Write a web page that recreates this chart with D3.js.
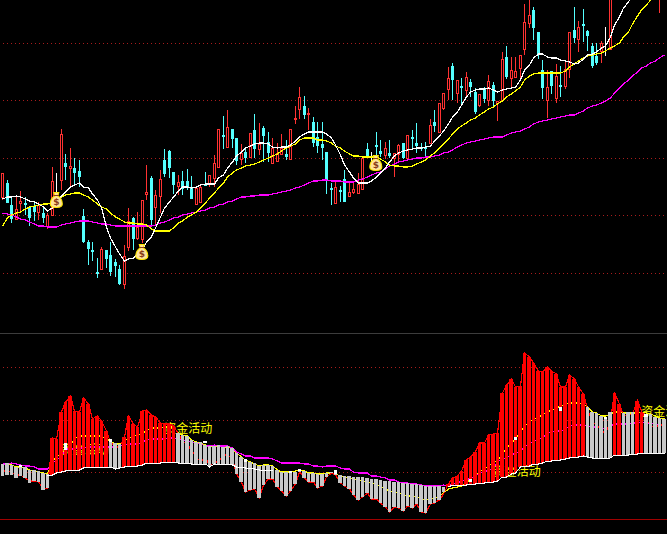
<!DOCTYPE html>
<html><head><meta charset="utf-8">
<script src="https://cdnjs.cloudflare.com/ajax/libs/d3/7.8.5/d3.min.js"></script>
<style>html,body{margin:0;padding:0;background:#000;overflow:hidden}svg{display:block}</style>
</head><body><svg id="c" width="667" height="534"></svg>
<script>
const _=null;
// ---- price panel (k-line) ----
const highs=[157,150,133,133,139,133,123,128,128,124,117,163,157,201,176,182,172,170,121,90,88,72,83,80,88,71,65,85,122,113,118,130,165,154,140,160,181,180,158,155,159,161,154,142,144,158,155,175,201,
214,220,201,192,186,182,197,216,207,204,198,192,187,196,190,201,224,243,234,222,213,208,208,178,147,149,144,160,149,147,157,172,187,178,198,190,188,190,177,186,187,195,200,207,187,188,211,220,227,237,
263,267,250,252,258,251,242,236,243,255,248,229,278,284,273,273,275,326,330,323,298,270,260,259,266,264,270,298,323,309,321,300,287,287,289,303,355,_,_,_,_,_,_,_,_,_,_,350,_];
const lows=[130,127,107,110,119,115,104,109,110,107,101,115,123,140,150,142,145,143,87,65,69,52,60,62,54,53,45,41,79,80,90,87,130,105,105,117,153,152,136,135,135,140,131,126,128,144,143,143,163,
181,183,182,165,165,167,172,172,175,168,168,166,169,175,170,170,206,211,211,200,183,177,170,136,125,127,128,128,134,136,137,141,173,165,167,173,171,172,153,168,171,172,182,177,179,172,187,198,198,220,
230,230,227,226,232,233,216,223,227,224,224,209,229,251,242,252,250,275,302,290,271,231,212,236,227,233,241,252,287,278,288,279,262,265,267,274,280,_,_,_,_,_,_,_,_,_,_,317,_];
const opens=[133,147,125,111,127,127,123,124,118,117,104,115,140,150,167,162,162,159,114,88,80,58,61,80,75,68,61,46,83,112,92,91,136,152,123,134,170,179,158,144,149,149,142,126,128,146,146,152,163,
195,183,201,192,171,178,173,200,181,202,188,167,169,176,176,171,211,221,224,216,208,193,186,178,142,127,140,151,134,138,137,141,181,174,185,179,175,177,172,176,187,172,193,187,183,183,187,208,198,222,
241,264,237,244,240,248,238,225,241,230,245,227,230,273,252,253,262,281,307,320,298,260,230,259,232,245,244,261,300,291,306,299,284,274,279,284,281,_,_,_,_,_,_,_,_,_,_,338,_];
const closes=[157,127,111,121,129,125,112,118,125,112,115,149,140,196,163,164,157,153,88,81,79,56,81,71,58,64,46,74,109,91,103,130,138,110,135,151,156,162,145,148,141,143,131,142,143,145,155,167,201,
193,203,191,169,177,172,197,181,186,194,177,182,177,182,173,201,212,233,215,217,187,184,182,150,141,143,138,128,138,141,146,172,173,174,183,176,182,174,177,185,172,195,192,184,182,182,205,204,227,237,
252,250,250,242,253,243,218,236,231,249,229,229,271,253,260,259,275,308,315,302,276,242,243,244,254,244,261,298,292,303,304,294,264,267,287,284,350,_,_,_,_,_,_,_,_,_,_,345,_];
const maWhite=[131,133,133,134,133,131,129,128,126,123,119,122,128,134,138,143,145,147,143,142,136,130,122,103,92,83,76,69,71,72,76,80,88,93,102,113,122,128,133,139,143,143,142,143,145,146,146,146,152,155,
162,168,174,178,182,184,186,187,187,186,183,182,183,183,185,189,193,196,198,198,198,198,196,192,185,175,165,158,152,147,147,147,149,153,157,162,168,174,177,179,180,181,182,182,183,184,189,194,199,
206,213,218,225,233,238,240,241,241,242,240,238,240,241,242,243,250,260,265,272,276,276,273,272,272,270,269,268,266,267,271,275,276,278,282,284,293,305,313,322,328,336,_,_,_,_,_,_];
const maYellow=[104,112,115,117,118,121,123,124,125,126,126,127,130,133,135,136,137,137,135,133,130,126,123,121,117,113,111,108,107,107,106,106,105,101,99,99,99,99,102,107,109,113,115,118,122,127,132,137,142,147,
153,157,160,162,164,165,166,168,170,172,174,176,179,182,184,186,190,192,192,192,190,190,189,187,184,182,179,176,174,174,173,173,173,173,171,168,165,164,164,163,163,164,166,168,170,174,177,182,186,
191,196,201,204,207,210,212,215,218,221,223,226,229,233,236,239,243,250,254,256,257,257,257,257,257,257,259,263,266,269,272,274,275,276,277,279,282,284,287,293,298,306,314,320,325,330,334,_,_];
const maMagenta=[117,116,115,113,111,110,108,106,104,104,103,103,103,105,106,107,108,109,109,109,108,107,106,106,105,104,104,104,104,104,104,104,104,104,105,107,108,110,112,113,115,116,117,118,119,120,122,123,125,126,
128,129,131,133,133,134,134,135,135,135,136,137,138,139,140,142,143,145,147,149,149,150,150,149,149,149,148,148,148,150,151,153,155,157,158,161,164,166,168,169,170,171,172,172,173,173,174,175,177,
178,180,183,185,187,188,189,190,191,192,193,193,193,195,197,198,199,201,203,206,208,209,210,211,212,213,214,215,215,217,219,222,224,225,227,229,232,237,242,246,250,254,258,262,264,267,269,272,275];
const priceGrid=[287,230,172,115,57];
const bagIndex=[12,31,83];
const bagPrice=[130,78,167];

// ---- money-flow panel ----
const barTop=[70,71,69,67,68,67,64,64,63,61,60,96,95,122,132,138,123,122,136,130,115,118,113,103,95,91,90,97,118,110,107,123,124,119,117,111,110,110,108,101,99,98,94,92,92,89,88,88,89,
87,88,86,81,77,74,72,71,68,69,69,68,64,62,62,62,62,65,63,61,61,60,60,61,62,63,59,58,58,57,57,57,56,55,55,54,53,53,52,52,51,51,50,50,49,48,48,48,48,47,
50,56,58,63,74,77,82,91,91,99,100,101,141,149,155,147,148,181,177,171,163,162,167,163,160,147,147,159,155,147,140,127,122,121,118,117,122,141,130,121,122,122,133,122,120,120,117,116,115];
const barBottom=[58,59,59,56,58,56,51,53,52,44,46,59,61,62,63,64,64,64,66,67,67,67,67,67,67,65,66,67,68,68,68,69,71,71,71,71,72,72,72,71,71,71,70,70,70,70,67,70,69,
70,69,69,60,52,42,44,45,36,49,55,55,47,43,38,43,50,62,56,52,52,46,48,57,61,59,51,48,45,39,34,37,41,35,35,31,27,22,27,26,23,28,26,30,22,21,30,31,34,42,
47,49,49,49,49,50,50,51,51,52,52,53,57,57,60,61,67,68,68,70,70,71,73,73,74,74,75,76,77,77,78,77,76,76,76,75,76,79,79,78,79,80,80,81,81,81,81,81,81];
const flowRed=[63,63,62,59,59,56,53,53,52,45,46,96,95,122,132,138,123,122,136,130,115,118,113,103,92,87,87,97,118,110,107,123,124,119,117,111,110,110,108,100,93,90,83,77,72,77,68,72,72,
79,79,76,60,52,42,44,45,36,49,55,55,47,43,38,43,50,62,56,52,52,46,48,57,61,59,51,48,45,39,34,37,41,35,35,31,27,22,27,26,23,28,26,30,22,21,30,31,34,40,
50,56,58,63,74,77,82,91,91,99,100,101,141,149,155,147,148,181,177,171,163,162,167,163,160,147,147,159,155,147,140,125,112,109,104,100,114,141,130,118,119,120,133,123,114,109,106,110,107];
const flowYellow=[70,70,69,67,67,66,64,63,62,61,60,73,77,81,84,88,96,98,98,98,98,98,98,95,93,90,90,93,96,98,99,101,103,106,106,106,107,107,107,101,99,98,94,92,91,89,88,88,88,
87,87,85,81,77,74,72,70,68,69,69,68,64,62,62,62,63,64,63,61,61,60,60,61,61,60,58,57,56,55,54,53,52,51,50,47,45,43,42,41,39,38,38,37,35,34,35,36,38,41,
45,46,47,48,51,55,59,62,65,68,71,74,80,86,91,95,102,108,112,115,116,120,122,124,126,128,130,131,131,131,130,127,122,121,118,118,120,122,122,121,121,121,121,122,121,120,118,116,115];
const flowMagenta=[70,70,71,70,69,68,68,67,65,65,65,70,75,77,85,85,85,86,86,87,87,87,87,87,87,87,88,89,90,90,90,92,94,95,95,95,95,96,96,95,94,93,92,91,90,88,88,89,88,
88,88,86,82,80,78,78,76,76,76,76,75,73,71,71,71,71,71,70,70,68,68,67,68,68,68,66,65,65,62,61,61,61,58,58,57,56,54,54,52,51,51,50,50,49,48,48,48,48,49,
48,50,51,53,54,56,58,61,62,64,66,72,75,76,79,81,83,87,90,93,95,96,101,102,103,103,105,108,109,109,109,108,107,107,106,105,108,110,110,110,110,111,111,112,111,111,110,109,108];
const flowWhite=[_,_,_,_,_,_,_,_,_,_,58,59,61,62,63,64,64,64,66,67,67,67,67,67,67,65,66,67,68,68,68,69,71,71,71,71,72,72,72,71,71,71,70,70,70,70,67,70,69,
70,70,69,67,67,66,66,65,64,64,64,64,_,_,_,_,_,_,_,_,_,_,_,_,_,_,_,_,_,_,_,_,_,_,_,_,_,_,_,_,_,_,_,_,_,_,_,_,_,_,
47,49,49,49,49,50,50,51,51,52,52,53,57,57,60,61,67,68,68,70,70,71,73,73,74,74,75,76,77,77,78,77,76,76,76,75,76,79,79,78,79,80,80,81,81,81,81,81,81];
const tickIndex=[4,14,24,45,54,64,66,74,104,114,124,134,143];
const tickHigh=[69,91,95,93,75,63,65,64,55,97,127,117,120];
const tickLow=[67,84,92,91,72,61,63,60,52,94,123,115,117];
const flowGrid=[167,114,62];
const flowBase=[15];
const labelText=["资金活动","资金活动","资金活动","资金活动"];
const labelIndex=[13,36,109,142];
const labelValue=[84,105,62,122];

const svg=d3.select("#c");
svg.append("rect").attr("width",667).attr("height",534).attr("fill","#000");
const crisp=s=>s.attr("shape-rendering","crispEdges");
const x=d3.scaleLinear().domain([0,147]).range([2.3,663.8]);
const px=i=>Math.round(x(i));
const yP=d3.scaleLinear().domain([0,330]).range([330,0]);
const yF=d3.scaleLinear().domain([0,201]).range([534,333]);
const snap=v=>Math.round(v)+0.5;
const idx=d3.range(148);

// grid and frame
const gridCol="#a81c1c";
crisp(svg.append("g").selectAll("line").data(priceGrid).join("line")
 .attr("x1",3).attr("x2",667).attr("y1",d=>snap(yP(d))).attr("y2",d=>snap(yP(d)))
 .attr("stroke",gridCol).attr("stroke-dasharray","1 3"));
crisp(svg.append("g").selectAll("line").data(flowGrid).join("line")
 .attr("x1",3).attr("x2",667).attr("y1",d=>snap(yF(d))).attr("y2",d=>snap(yF(d)))
 .attr("stroke",gridCol).attr("stroke-dasharray","1 3"));
crisp(svg.append("line").attr("x1",0).attr("x2",667).attr("y1",333.5).attr("y2",333.5).attr("stroke","#3c3c3c"));
crisp(svg.append("g").selectAll("line").data(flowBase).join("line")
 .attr("x1",0).attr("x2",667).attr("y1",d=>snap(yF(d))).attr("y2",d=>snap(yF(d))).attr("stroke","#a00000"));

// candles
const RED="#ff3232",CYAN="#54ffff";
const live=idx.filter(i=>highs[i]!==null);
const col=i=>closes[i]===opens[i]?"#fff":closes[i]>opens[i]?RED:CYAN;
const cg=svg.append("g");
crisp(cg.selectAll("line").data(live).join("line")
 .attr("x1",i=>px(i)+.5).attr("x2",i=>px(i)+.5)
 .attr("y1",i=>yP(highs[i])).attr("y2",i=>yP(lows[i])).attr("stroke",col));
crisp(cg.selectAll("rect.up").data(live.filter(i=>closes[i]>opens[i])).join("rect").attr("class","up")
 .attr("x",i=>px(i)-.5).attr("width",2)
 .attr("y",i=>snap(yP(closes[i]))).attr("height",i=>Math.max(1,Math.round(yP(opens[i])-yP(closes[i]))))
 .attr("fill","#000").attr("stroke",RED));
crisp(cg.selectAll("rect.dn").data(live.filter(i=>closes[i]<opens[i])).join("rect").attr("class","dn")
 .attr("x",i=>px(i)-1).attr("width",3)
 .attr("y",i=>Math.round(yP(opens[i]))).attr("height",i=>Math.max(2,Math.round(yP(closes[i])-yP(opens[i]))))
 .attr("fill",CYAN));

// moving averages
function drawLine(vals,scale,color,w){
  const l=d3.line().defined(i=>vals[i]!==null&&vals[i]!==undefined).x(i=>px(i)+.5).y(i=>scale(vals[i]));
  return crisp(svg.append("path").attr("d",l(idx)).attr("fill","none").attr("stroke",color).attr("stroke-width",w||1));
}
drawLine(maMagenta,yP,"#ff00ff",1.2);
drawLine(maYellow,yP,"#ffff00",1.2);
drawLine(maWhite,yP,"#ffffff",1.2);

// money bags
const bags=svg.append("g").selectAll("g").data(bagIndex).join("g")
 .attr("transform",(d,k)=>`translate(${x(d)},${yP(bagPrice[k])})`);
bags.append("path").attr("d","M-2.5,-7.5 L2.5,-7.5 L1.5,-4 C5,-2 6,1.5 6,4 C6,6.8 3.5,7.5 0,7.5 C-3.5,7.5 -6,6.8 -6,4 C-6,1.5 -5,-2 -1.5,-4 Z")
 .attr("fill","#ffe29a").attr("stroke","#ffe800").attr("stroke-width",1.1);
bags.append("path").attr("d","M-2.5,-4.5 L2.5,-4.5").attr("stroke","#8a3b1a").attr("stroke-width",1);
bags.append("text").attr("text-anchor","middle").attr("y",5).attr("font-size",9).attr("font-weight","bold")
 .attr("font-family","DejaVu Sans").attr("fill","#8a3b1a").text("$");

// labels (behind bars)
svg.append("g").selectAll("text").data(labelIndex).join("text")
 .attr("x",i=>x(i)).attr("y",(d,k)=>yF(labelValue[k])).attr("dy","0.36em")
 .attr("font-family","'Noto Sans CJK SC'").attr("font-size",12).attr("fill","#ffff00")
 .text((d,k)=>labelText[k]);

// flow lines lie behind the bars and show through the gaps
drawLine(flowYellow,yF,"#ffff00",1.2);
drawLine(flowMagenta,yF,"#ff00ff",1.2);
drawLine(flowRed,yF,"#ff0000",1.2);

// flow bars: 3 or 4 px wide so that one pixel stays free between neighbours
const barX=i=>Math.round(x(i)-1.5);
const barW=i=>barX(i+1)-barX(i)-1;
crisp(svg.append("g").selectAll("rect").data(idx).join("rect")
 .attr("x",barX).attr("width",barW)
 .attr("y",i=>Math.round(yF(barTop[i]))).attr("height",i=>Math.max(1,Math.round(yF(barBottom[i])-yF(barTop[i]))))
 .attr("fill",i=>flowRed[i]>flowYellow[i]?"#ff0000":"#c8c8c8"));
drawLine(flowWhite,yF,"#ffffff",1);
crisp(svg.append("g").selectAll("rect").data(tickIndex).join("rect")
 .attr("x",barX).attr("width",barW)
 .attr("y",(i,k)=>yF(tickHigh[k])).attr("height",(i,k)=>yF(tickLow[k])-yF(tickHigh[k]))
 .attr("fill","#fff"));
</script></body></html>
